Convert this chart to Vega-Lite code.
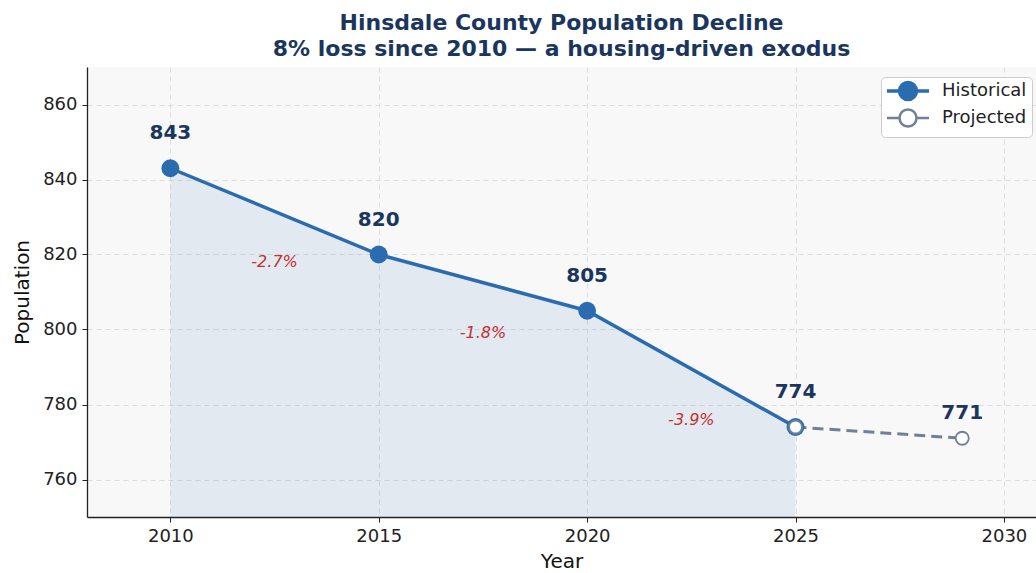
{
  "$schema": "https://vega.github.io/schema/vega-lite/v6.json",
  "width": 949,
  "height": 450,
  "autosize": {"type": "none"},
  "padding": {"left": 87, "top": 67, "right": 0, "bottom": 56},
  "background": "white",
  "title": {
    "text": ["Hinsdale County Population Decline", "8% loss since 2010 — a housing-driven exodus"],
    "font": "DejaVu Sans",
    "fontSize": 22,
    "fontWeight": "bold",
    "color": "#1a365d",
    "anchor": "middle",
    "lineHeight": 26,
    "offset": 6
  },
  "config": {
    "font": "DejaVu Sans",
    "view": {"fill": "#f8f8f8", "stroke": null},
    "axis": {
      "labelFont": "DejaVu Sans",
      "labelFontSize": 18,
      "labelColor": "#222222",
      "titleFont": "DejaVu Sans",
      "titleFontSize": 20,
      "titleFontWeight": "normal",
      "titleColor": "#111111",
      "domainColor": "#222222",
      "domainWidth": 1.3,
      "tickColor": "#222222",
      "tickSize": 5,
      "gridColor": "#dddddd",
      "gridDash": [5, 4],
      "gridWidth": 1
    }
  },
  "datasets": {
    "hist": [
      {"year": 2010, "pop": 843, "series": "Historical"},
      {"year": 2015, "pop": 820, "series": "Historical"},
      {"year": 2020, "pop": 805, "series": "Historical"},
      {"year": 2025, "pop": 774, "series": "Historical"}
    ],
    "proj": [
      {"year": 2025, "pop": 774, "series": "Projected"},
      {"year": 2029, "pop": 771, "series": "Projected"}
    ],
    "pct": [
      {"year": 2012.5, "pos": 818, "label": "-2.7%"},
      {"year": 2017.5, "pos": 799, "label": "-1.8%"},
      {"year": 2022.5, "pos": 776, "label": "-3.9%"}
    ]
  },
  "encoding": {
    "x": {
      "field": "year", "type": "quantitative",
      "scale": {"domain": [2008, 2030.77], "nice": false, "zero": false},
      "axis": {"title": "Year", "values": [2010, 2015, 2020, 2025, 2030], "format": "d", "titlePadding": 6, "labelPadding": 5}
    },
    "y": {
      "field": "pop", "type": "quantitative",
      "scale": {"domain": [750, 870], "nice": false, "zero": false},
      "axis": {"title": "Population", "values": [760, 780, 800, 820, 840, 860], "titlePadding": 10, "labelPadding": 5}
    }
  },
  "layer": [
    {
      "data": {"name": "hist"},
      "mark": {"type": "area", "color": "#2b6cb0", "opacity": 0.1},
      "encoding": {"y2": {"datum": 750}}
    },
    {
      "data": {"name": "hist"},
      "mark": {"type": "line", "strokeWidth": 3.5},
      "encoding": {
        "color": {
          "field": "series", "type": "nominal",
          "scale": {"domain": ["Historical", "Projected"], "range": ["#2b6cb0", "#718096"]},
          "legend": {
            "title": null,
            "orient": "none",
            "legendX": 794,
            "legendY": 10,
            "symbolType": "M-2.1,0L-0.85,0M0.85,0L2.1,0M0.85,0A0.85,0.85 0 1,1 -0.85,0A0.85,0.85 0 1,1 0.85,0Z",
            "symbolSize": 400,
            "symbolOffset": 13,
            "symbolStrokeWidth": 3,
            "labelFontSize": 18,
            "labelFont": "DejaVu Sans",
            "labelColor": "#222222",
            "rowPadding": -3,
            "padding": 5,
            "fillColor": "white",
            "strokeColor": "#cccccc",
            "cornerRadius": 4,
            "labelOffset": 25,
            "encode": {
              "symbols": {
                "update": {
                  "size": {"value": 400},
                  "fill": {"signal": "datum.value === 'Historical' ? '#2b6cb0' : '#ffffff'"},
                  "stroke": {"signal": "datum.value === 'Historical' ? '#2b6cb0' : '#718096'"},
                  "strokeWidth": {"signal": "datum.value === 'Historical' ? 3.5 : 2.5"},
                  "opacity": {"value": 1}
                }
              }
            }
          }
        }
      }
    },
    {
      "data": {"name": "proj"},
      "mark": {"type": "line", "strokeWidth": 3, "strokeDash": [11, 6]},
      "encoding": {"color": {"field": "series", "type": "nominal"}}
    },
    {
      "data": {"name": "hist"},
      "mark": {"type": "point", "filled": true, "color": "#2b6cb0", "size": 320, "opacity": 1},
      "encoding": {}
    },
    {
      "data": {"name": "proj"},
      "mark": {"type": "point", "filled": true, "fill": "#ffffff", "stroke": "#718096", "strokeWidth": 1.8, "size": 170, "opacity": 1},
      "encoding": {}
    },
    {
      "data": {"name": "hist"},
      "mark": {"type": "text", "dy": -35, "fontSize": 20, "fontWeight": "bold", "color": "#1a365d", "font": "DejaVu Sans"},
      "encoding": {"text": {"field": "pop", "type": "quantitative"}}
    },
    {
      "data": {"name": "proj"},
      "transform": [{"filter": "datum.year == 2029"}],
      "mark": {"type": "text", "dy": -25, "fontSize": 20, "fontWeight": "bold", "color": "#1a365d", "font": "DejaVu Sans"},
      "encoding": {"text": {"field": "pop", "type": "quantitative"}}
    },
    {
      "data": {"name": "pct"},
      "mark": {"type": "text", "fontSize": 16, "fontStyle": "italic", "color": "#c53030", "font": "DejaVu Sans"},
      "encoding": {"y": {"field": "pos", "type": "quantitative"}, "text": {"field": "label"}}
    }
  ]
}
